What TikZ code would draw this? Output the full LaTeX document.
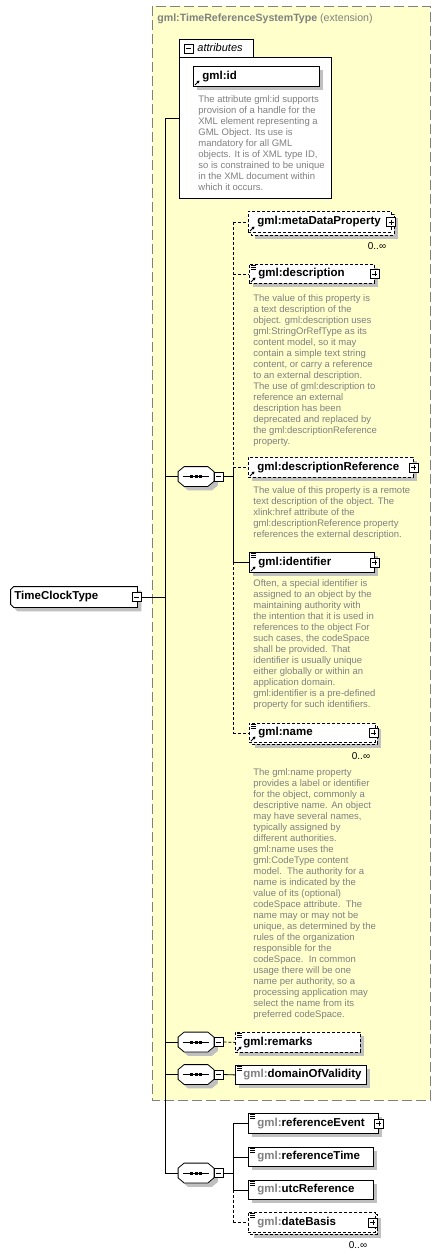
\documentclass[tikz,border=0pt]{standalone}
\usepackage{fontspec}
\setmainfont{Liberation Sans}
\usetikzlibrary{shadows,arrows.meta}
\definecolor{bgyel}{RGB}{255,255,204}
\definecolor{bordgray}{RGB}{128,128,128}
\definecolor{txtgray}{RGB}{128,128,128}
\definecolor{shadgray}{RGB}{192,192,192}
\newcommand\lblfont{\fontsize{11.5}{13}\selectfont\bfseries}
\newcommand\descfont{\fontsize{9.5}{11}\selectfont}
\newcommand\gp{\textcolor{txtgray}{gml:}}
\newcommand\icolines[1]{\foreach \yy in {1.5,3.5,5.5}{\draw[line width=0.7pt] ([xshift=2pt,yshift=-\yy*1pt]#1.north west) -- ++(5,0);}}
\newcommand\icoarrow[1]{\draw[line width=0.9pt,-{Triangle[length=2.6pt,width=3pt]}] ([xshift=2pt,yshift=1.8pt]#1.south west) -- ++(4.5,-4.5);}
\newcommand\compshape[1]{\path[draw,fill=white,shd] ([xshift=6pt]#1.north west) -- ([xshift=-6pt]#1.north east) -- ([yshift=-5pt]#1.north east) -- ([yshift=5pt]#1.south east) -- ([xshift=-6pt]#1.south east) -- ([xshift=6pt]#1.south west) -- ([yshift=5pt]#1.south west) -- ([yshift=-5pt]#1.north west) -- cycle;
 \draw[line width=0.8pt] ([xshift=-13pt]#1.center) -- ([xshift=13pt]#1.center);
 \foreach \dx in {-4.5,0,4.5}{\fill ([shift={(\dx-1.5,-1.5)}]#1.center) rectangle ([shift={(\dx+1.5,1.5)}]#1.center);}}
\begin{document}
\begin{tikzpicture}[x=1pt,y=-1pt,line width=0.8pt,
 shd/.style={drop shadow={shadow xshift=4pt,shadow yshift=-4pt,fill=shadgray,opacity=1}},
 opt/.style={dash pattern=on 3pt off 2pt},
 ebox/.style={draw,fill=white,inner xsep=0pt,inner ysep=0pt,align=left,text width=#1,minimum height=20pt,anchor=north west,font=\lblfont},
 comp/.style={rectangle,minimum width=35pt,minimum height=19pt,inner sep=0pt},
 pmbox/.style={draw,fill=white,minimum size=9pt,inner sep=0pt,line width=0.6pt},
 minusb/.style={pmbox,path picture={\draw[line width=0.6pt] ([xshift=2pt]path picture bounding box.west) -- ([xshift=-2pt]path picture bounding box.east);}},
 plusb/.style={pmbox,path picture={\draw[line width=0.6pt] ([xshift=2pt]path picture bounding box.west) -- ([xshift=-2pt]path picture bounding box.east); \draw[line width=0.6pt] ([yshift=-2pt]path picture bounding box.north) -- ([yshift=2pt]path picture bounding box.south);}},
 desc/.style={anchor=north west,inner sep=0pt,align=left,font=\descfont,text=txtgray},
 mult/.style={font=\fontsize{10}{12}\selectfont,inner sep=0pt}
]
\useasboundingbox (0,0) rectangle (442,1258);
\fill[white] (0,0) rectangle (442,1258);
% extension area
\path[fill=bgyel,draw=bordgray,line width=1pt,dash pattern=on 10pt off 4pt] (152,6) rectangle (430,1100);
\node[anchor=west,inner sep=0pt,text=txtgray,font=\fontsize{10.6}{13}\selectfont] (title) at (157,19) {\textbf{gml:TimeReferenceSystemType} (extension)};

% trunk
\coordinate (tTop) at (165,118);
\coordinate (tBot) at (165,1173);
\draw (tTop) -- (tBot);

% attributes
\node[draw,fill=white,anchor=north west,minimum width=152pt,minimum height=141pt,inner sep=0pt] (attr) at (179,57) {};
\draw[fill=white] (179,57) -- (179,39) -- (253,39) -- (253,57);
\node[minusb] (attrm) at (188.5,48.5) {};
\node[anchor=west,inner sep=0pt,font=\fontsize{11}{13}\selectfont\itshape] (attrlbl) at (197,48) {attributes};
\draw (tTop) -- (attr.west |- tTop);
\node[ebox=126pt,shd] (gid) at (193,66) {\hspace*{9pt}gml:id};
\icoarrow{gid}
\node[desc] (giddesc) at (198,95.5) {The attribute gml:id supports\\provision of a handle for the\\XML element representing a\\GML Object. Its use is\\mandatory for all GML\\objects. It is of XML type ID,\\so is constrained to be unique\\in the XML document within\\which it occurs.};

% root
\node[minimum width=126pt,minimum height=20pt,inner sep=0pt] (tct) at (74,597) {};
\path[draw,fill=white,shd] ([xshift=3pt]tct.north west) -- (tct.north east) -- (tct.south east) -- ([xshift=3pt]tct.south west) -- ([yshift=3pt]tct.south west) -- ([yshift=-3pt]tct.north west) -- cycle;
\node[anchor=west,inner sep=0pt,font=\lblfont] (tctlbl) at (14,597) {TimeClockType};
\node[minusb] (tctm) at (136.5,597) {};
\draw (tctm.east) -- (tctm.east -| tTop);

% compositors
\node[comp] (c1) at (196,476.5) {}; \compshape{c1}
\node[minusb] (m1) at (218.5,476.5) {};
\node[comp] (c2) at (196,1042) {}; \compshape{c2}
\node[minusb] (m2) at (218.5,1042) {};
\node[comp] (c3) at (196,1074.5) {}; \compshape{c3}
\node[minusb] (m3) at (218.5,1074.5) {};
\node[comp] (c4) at (196,1173) {}; \compshape{c4}
\node[minusb] (m4) at (218.5,1173) {};
\foreach \c in {c1,c2,c3,c4}{\draw (tTop |- \c.west) -- (\c.west);}

% sequence 1
\coordinate (b1) at (233,476.5);
\draw (m1.east) -- (b1);
\path[draw,opt,fill=white,shd] (251,214) rectangle (394,235);
\node[ebox=143pt,opt,minimum height=21pt] (meta) at (248,211) {\hspace*{9pt}gml:metaDataProperty};
\icoarrow{meta}
\node[plusb] (metap) at (391,222) {};
\node[mult] (metam) at (377,246) {0..∞};

\node[ebox=125pt,opt,shd,minimum height=19pt] (descr) at (249,264) {\hspace*{9pt}gml:description};
\icolines{descr}\icoarrow{descr}
\node[plusb] (descrp) at (descr.east) {};
\node[desc] (descrdesc) at (253,294.5) {The value of this property is\\a text description of the\\object. gml:description uses\\gml:StringOrRefType as its\\content model, so it may\\contain a simple text string\\content, or carry a reference\\to an external description.\\The use of gml:description to\\reference an external\\description has been\\deprecated and replaced by\\the gml:descriptionReference\\property.};

\node[ebox=165pt,opt,shd] (dref) at (248,457) {\hspace*{9pt}gml:descriptionReference};
\icoarrow{dref}
\node[plusb] (drefp) at (dref.east) {};
\node[desc] (drefdesc) at (253,486.5) {The value of this property is a remote\\text description of the object. The\\xlink:href attribute of the\\gml:descriptionReference property\\references the external description.};

\node[ebox=125pt,shd] (ident) at (249,552) {\hspace*{9pt}gml:identifier};
\icolines{ident}\icoarrow{ident}
\node[plusb] (identp) at (ident.east) {};
\node[desc] (identdesc) at (253,579.5) {Often, a special identifier is\\assigned to an object by the\\maintaining authority with\\the intention that it is used in\\references to the object For\\such cases, the codeSpace\\shall be provided. That\\identifier is usually unique\\either globally or within an\\application domain.\\gml:identifier is a pre-defined\\property for such identifiers.};

\path[draw,opt,fill=white,shd] (251,725) rectangle (377,744);
\node[ebox=126pt,opt,minimum height=19pt] (name) at (249,723) {\hspace*{9pt}gml:name};
\icolines{name}\icoarrow{name}
\node[plusb] (namep) at ([xshift=-2pt]name.east) {};
\node[mult] (namem) at (361,756) {0..∞};
\node[desc] (namedesc) at (253,768.5) {The gml:name property\\provides a label or identifier\\for the object, commonly a\\descriptive name. An object\\may have several names,\\typically assigned by\\different authorities.\\gml:name uses the\\gml:CodeType content\\model.\ \ The authority for a\\name is indicated by the\\value of its (optional)\\codeSpace attribute.\ \ The\\name may or may not be\\unique, as determined by the\\rules of the organization\\responsible for the\\codeSpace.\ \ In common\\usage there will be one\\name per authority, so a\\processing application may\\select the name from its\\preferred codeSpace.};

\draw[opt] (b1 |- meta.west) -- (b1 |- dref.west);
\draw (b1 |- dref.west) -- (b1 |- ident.west);
\draw[opt] (b1 |- ident.west) -- (b1 |- name.west);
\draw[opt] (b1 |- meta.west) -- (meta.west);
\draw[opt] (b1 |- descr.west) -- (descr.west);
\draw[opt] (b1 |- dref.west) -- (dref.west);
\draw (b1 |- ident.west) -- (ident.west);
\draw[opt] (b1 |- name.west) -- (name.west);

% sequence 2 and 3
\node[ebox=125pt,opt,shd] (remarks) at (235,1032) {\hspace*{8pt}gml:remarks};
\icolines{remarks}\icoarrow{remarks}
\draw[opt] (m2.east) -- (remarks.west);
\node[ebox=131pt,shd,minimum height=19pt] (dov) at (235,1065) {\hspace*{8pt}\gp domainOfValidity};
\icolines{dov}
\draw (m3.east) -- (dov.west);

% sequence 4
\coordinate (b4) at (233,1173);
\draw (m4.east) -- (b4);
\node[ebox=130pt,shd] (refev) at (248,1113) {\hspace*{9pt}\gp referenceEvent};
\icolines{refev}
\node[plusb] (refevp) at (refev.east) {};
\node[ebox=125pt,shd,minimum height=19pt] (reft) at (248,1147) {\hspace*{9pt}\gp referenceTime};
\icolines{reft}
\node[ebox=125pt,shd,minimum height=19pt] (utc) at (248,1180) {\hspace*{9pt}\gp utcReference};
\icolines{utc}
\path[draw,opt,fill=white,shd] (250,1214) rectangle (377,1234);
\node[ebox=127pt,opt] (dateb) at (248,1212) {\hspace*{9pt}\gp dateBasis};
\icolines{dateb}
\node[plusb] (datebp) at ([xshift=-3pt]dateb.east) {};
\node[mult] (datebm) at (358,1245) {0..∞};

\draw (b4 |- refev.west) -- (b4 |- utc.west);
\draw[opt] (b4 |- utc.west) -- (b4 |- dateb.west);
\draw (b4 |- refev.west) -- (refev.west);
\draw (b4 |- reft.west) -- (reft.west);
\draw (b4 |- utc.west) -- (utc.west);
\draw[opt] (b4 |- dateb.west) -- (dateb.west);
\end{tikzpicture}
\end{document}
